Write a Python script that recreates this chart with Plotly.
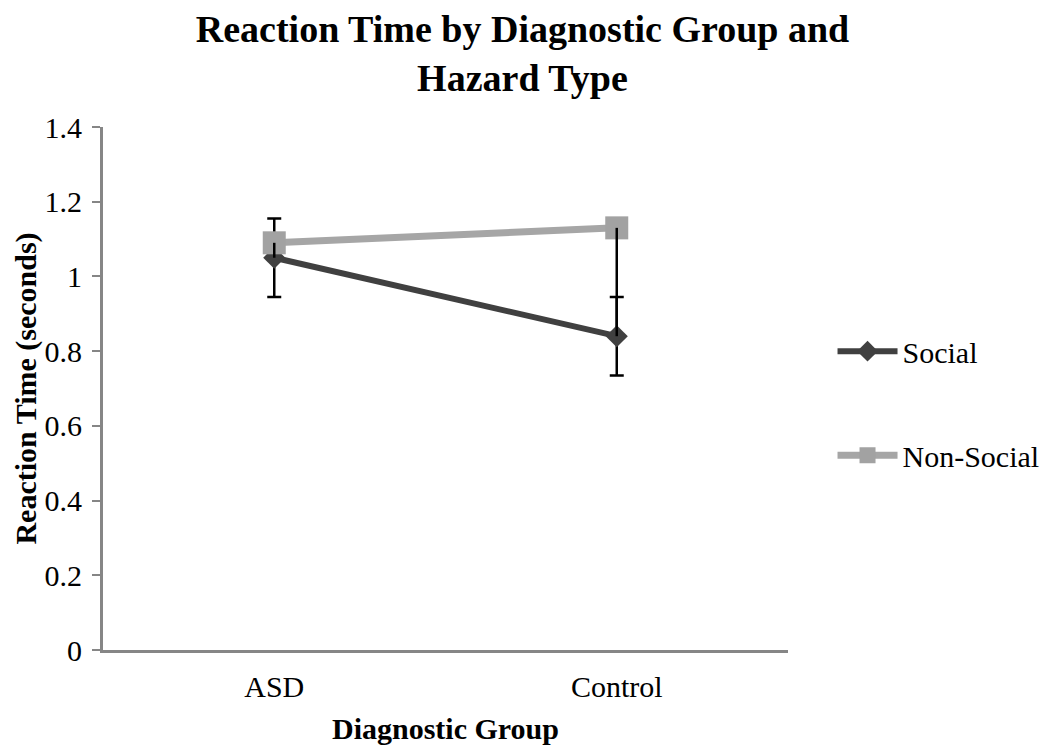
import plotly.graph_objects as go

groups = ["ASD", "Control"]
social = [1.05, 0.84]
social_err = [0.105, 0.105]
nonsocial = [1.09, 1.13]
nonsocial_err_minus = [0.04, 0.29]
y_ticks = [0, 0.2, 0.4, 0.6, 0.8, 1.0, 1.2, 1.4]
y_labels = ["0", "0.2", "0.4", "0.6", "0.8", "1", "1.2", "1.4"]

SERIF = "Liberation Serif, Times New Roman, serif"
AX = "#868686"

fig = go.Figure()

# Social error bars (under the social markers)
fig.add_trace(go.Scatter(
    x=groups, y=social, mode="markers",
    marker=dict(size=1, color="rgba(0,0,0,0)"),
    error_y=dict(type="data", array=social_err, symmetric=True,
                 color="black", thickness=2.5, width=7),
    showlegend=False, hoverinfo="skip"))

fig.add_trace(go.Scatter(
    x=groups, y=social, mode="lines+markers", name="Social",
    line=dict(color="#404040", width=6),
    marker=dict(symbol="diamond", size=17, color="#404040"),
    legendgroup="a"))

fig.add_trace(go.Scatter(
    x=groups, y=nonsocial, mode="lines+markers", name="Non-Social",
    line=dict(color="#a6a6a6", width=7),
    marker=dict(symbol="square", size=23, color="#a2a2a2"),
    legendgroup="b"))

# Non-social error bars
fig.add_trace(go.Scatter(
    x=groups, y=nonsocial, mode="markers",
    marker=dict(size=1, color="rgba(0,0,0,0)"),
    error_y=dict(type="data", array=[0, 0], arrayminus=nonsocial_err_minus,
                 symmetric=False, color="black", thickness=2.5, width=0),
    showlegend=False, hoverinfo="skip"))

fig.update_layout(
    width=1050, height=749,
    margin=dict(l=95, r=270, t=119, b=107),
    paper_bgcolor="white", plot_bgcolor="white",
    font=dict(family=SERIF, size=30, color="black"),
    title=dict(text="<b>Reaction Time by Diagnostic Group and<br>Hazard Type</b>",
               x=0.49, xanchor="center", y=0.955, yanchor="top",
               font=dict(family=SERIF, size=38, color="black")),
    legend=dict(x=1.065, xanchor="left", y=0.472, yanchor="middle",
                font=dict(family=SERIF, size=30, color="black"),
                tracegroupgap=62, itemwidth=60, bgcolor="rgba(0,0,0,0)"),
    showlegend=True,
)

fig.update_xaxes(
    type="category", range=[-0.5, 1.5], automargin=False,
    showline=True, linecolor=AX, linewidth=3,
    ticks="", showgrid=False, zeroline=False,
    tickfont=dict(family=SERIF, size=30),
    ticklabelstandoff=8,
    title=dict(text="<b>Diagnostic Group</b>", font=dict(family=SERIF, size=30), standoff=16),
)

fig.update_yaxes(
    range=[0, 1.4], tickvals=y_ticks, ticktext=y_labels, automargin=False,
    showline=True, linecolor=AX, linewidth=3,
    ticks="outside", ticklen=8, tickwidth=2, tickcolor=AX,
    showgrid=False, zeroline=False,
    tickfont=dict(family=SERIF, size=30),
    ticklabelstandoff=4,
    title=dict(text="<b>Reaction Time (seconds)</b>", font=dict(family=SERIF, size=30), standoff=0),
)

fig.write_html("out.html")
